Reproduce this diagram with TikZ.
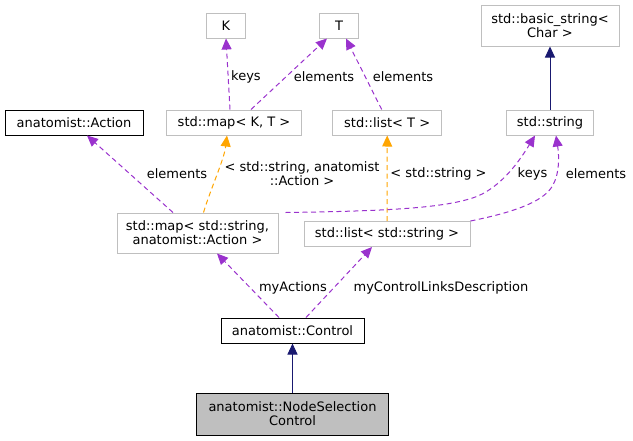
\documentclass[tikz,border=0pt]{standalone}
\usepackage{fontspec}
\setmainfont{DejaVu Sans}
\usetikzlibrary{arrows.meta}
\definecolor{boxgrey}{HTML}{BFBFBF}
\definecolor{edgepurple}{HTML}{9A32CD}
\definecolor{edgeorange}{HTML}{FFA500}
\definecolor{edgenavy}{HTML}{191970}
\tikzset{
  cls/.style={draw=boxgrey, line width=1pt, fill=white, inner sep=0pt, align=center, text=black},
  clsdark/.style={draw=black, line width=1pt, fill=white, inner sep=0pt, align=center, text=black},
  clsmain/.style={draw=black, line width=1pt, fill=boxgrey, inner sep=0pt, align=center, text=black},
  tip/.style={-{Triangle[length=11pt,width=10pt]}},
  usage/.style={tip, draw=edgepurple, line width=1pt, dash pattern=on 5pt off 3.5pt},
  templ/.style={tip, draw=edgeorange, line width=1pt, dash pattern=on 5pt off 3.5pt},
  inherit/.style={tip, draw=edgenavy, line width=1pt},
  lbl/.style={inner sep=0pt, align=center, text=black},
}
\begin{document}
\begin{tikzpicture}[x=1pt,y=-1pt]
\fontsize{13}{14}\selectfont
\useasboundingbox (0,0) rectangle (633,440);
% nodes
\node[cls, minimum width=39pt, minimum height=25pt] (K) at (226,25.5) {K};
\node[cls, minimum width=39pt, minimum height=25pt] (T) at (339,25.5) {T};
\node[cls, minimum width=138pt, minimum height=41pt] (basic) at (550,25.5) {std::basic\_string\textless\\Char \textgreater};
\node[clsdark, minimum width=138pt, minimum height=25pt] (action) at (74,122.5) {anatomist::Action};
\node[cls, minimum width=135pt, minimum height=25pt] (mapKT) at (234,122.5) {std::map\textless{} K, T \textgreater};
\node[cls, minimum width=109pt, minimum height=25pt] (listT) at (387.2,122.5) {std::list\textless{} T \textgreater};
\node[cls, minimum width=87pt, minimum height=25pt] (string) at (550,122.5) {std::string};
\node[cls, minimum width=161pt, minimum height=40pt] (mapSA) at (197.5,233) {std::map\textless{} std::string,\\anatomist::Action \textgreater};
\node[cls, minimum width=166pt, minimum height=25pt] (listS) at (387,234) {std::list\textless{} std::string \textgreater};
\node[clsdark, minimum width=143pt, minimum height=25pt] (control) at (292.5,330.5) {anatomist::Control};
\node[clsmain, minimum width=192pt, minimum height=42pt] (nodesel) at (292.5,414) {anatomist::NodeSelection\\Control};
% edges
\draw[usage] ([xshift=-4pt]mapKT.north) -- (K.south);
\draw[usage] ([xshift=17pt]mapKT.north) -- ([xshift=-12pt]T.south);
\draw[usage] ([xshift=-5.5pt]listT.north) -- ([xshift=7pt]T.south);
\draw[inherit] (string.north) -- (basic.south);
\draw[usage] ([xshift=-24.5pt]mapSA.north) -- ([xshift=13pt]action.south);
\draw[templ] ([xshift=6pt]mapSA.north) .. controls (212,185) and (224,160) .. ([xshift=-7pt]mapKT.south);
\draw[templ] (listS.north) -- (listT.south);
\draw[usage] ([xshift=7pt]mapSA.north east) .. controls (400,211) and (450,207) .. (478,196) .. controls (503,185) and (520,160) .. ([xshift=-15pt]string.south);
\draw[usage] (listS.north east) .. controls (520,211) and (545,200) .. (553,185) .. controls (560,172) and (559,155) .. ([xshift=6pt]string.south);
\draw[usage] ([xshift=-13.5pt]control.north) -- ([xshift=19.5pt]mapSA.south);
\draw[usage] ([xshift=13.5pt]control.north) -- ([xshift=-15pt]listS.south);
\draw[inherit] (nodesel.north) -- (control.south);
% labels
\node[lbl] (l1) at (246,77) {keys};
\node[lbl] (l2) at (324,77) {elements};
\node[lbl] (l3) at (403,77) {elements};
\node[lbl] (l4) at (177,174) {elements};
\node[lbl] (l5) at (302,174) {\textless{} std::string, anatomist\\::Action \textgreater};
\node[lbl] (l6) at (438.5,173.5) {\textless{} std::string \textgreater};
\node[lbl] (l7) at (532.5,174) {keys};
\node[lbl] (l8) at (596,174) {elements};
\node[lbl] (l9) at (293,288) {myActions};
\node[lbl] (l10) at (441,288) {myControlLinksDescription};
\end{tikzpicture}
\end{document}
